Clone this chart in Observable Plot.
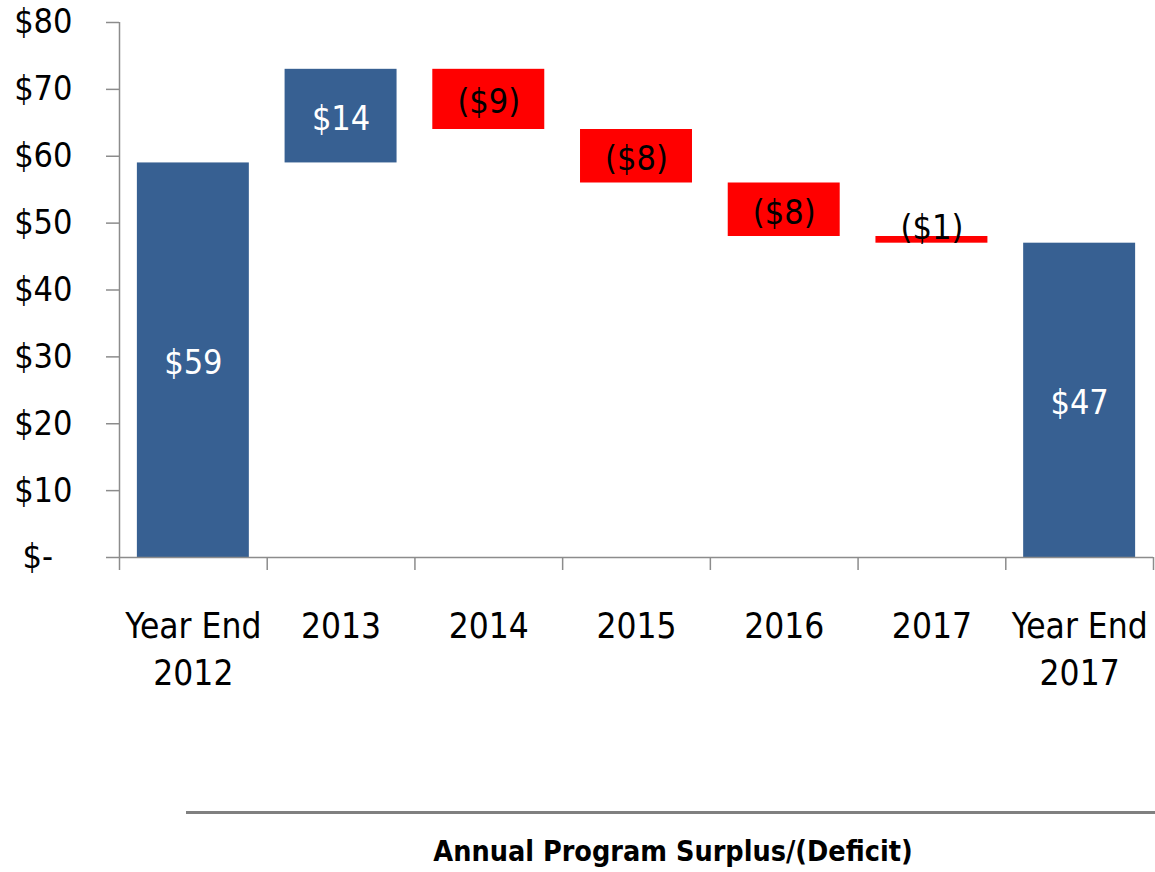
<!DOCTYPE html>
<html><head><meta charset="utf-8">
<script src="https://cdn.jsdelivr.net/npm/d3@7"></script>
<script src="https://cdn.jsdelivr.net/npm/@observablehq/plot@0.6"></script>
<style>
body{margin:0;background:#fff;}
#wrap{position:relative;width:1155px;height:872px;overflow:hidden;}
#rule{position:absolute;left:186px;top:811px;width:969px;height:3px;background:#808080;}
#title{position:absolute;left:186px;width:974px;top:835px;text-align:center;font:bold 28.5px "Liberation Sans Narrow","Arial Narrow","DejaVu Sans Condensed",sans-serif;color:#000;}
</style></head><body><div id="wrap"></div>
<script>
const categories = ["Year End\n2012", "2013", "2014", "2015", "2016", "2017", "Year End\n2017"];
const values = [59, 14, -9, -8, -8, -1, 47];
const kinds = ["total", "delta", "delta", "delta", "delta", "delta", "total"];
const valueLabels = ["$59", "$14", "($9)", "($8)", "($8)", "($1)", "$47"];
const yTicks = [0, 10, 20, 30, 40, 50, 60, 70, 80];
const yTickLabels = ["$-\u2007", "$10", "$20", "$30", "$40", "$50", "$60", "$70", "$80"];

const BLUE = "#376092", RED = "#ff0000", GRAY = "#8c8c8c";
const FONT = '"Liberation Sans Narrow","Arial Narrow","DejaVu Sans Condensed",sans-serif';

let running = 0;
const bars = categories.map((c, i) => {
  let y1, y2;
  if (kinds[i] === "total") { y1 = 0; y2 = values[i]; running = values[i]; }
  else { y1 = running; y2 = running + values[i]; running = y2; }
  return {cat: c, y1, y2, mid: (y1 + y2) / 2, label: valueLabels[i],
    color: (kinds[i] === "total" || values[i] > 0) ? BLUE : RED,
    textColor: (kinds[i] === "total" || values[i] > 0) ? "#fff" : "#000", idx: i};
});

const W = 1155, H = 730, ML = 119, MR = 2, MT = 22, MB = 173;
const step = (W - ML - MR) / categories.length;

const chart = Plot.plot({
  width: W, height: H, marginLeft: ML, marginRight: MR, marginTop: MT, marginBottom: MB,
  style: {fontFamily: FONT, background: "#fff", color: "#000"},
  x: {type: "band", domain: categories, paddingInner: 0.242, paddingOuter: 0.121, align: 0.5, round: false, axis: null, label: null},
  y: {domain: [0, 80], axis: null, label: null},
  color: {type: "identity"},
  marks: [
    Plot.barY(bars, {x: "cat", y1: "y1", y2: "y2", fill: "color"}),
    Plot.ruleX([categories[0]], {x: d => d, y1: 0, y2: 80, dx: -step / 2, stroke: GRAY, strokeWidth: 1.5}),
    Plot.ruleY([0], {stroke: GRAY, strokeWidth: 1.5}),
    Plot.axisY(yTicks, {tickSize: 13, tickPadding: 34, fontSize: 34, stroke: GRAY, strokeWidth: 1.5, fill: "#000", label: null,
      tickFormat: d => yTickLabels[yTicks.indexOf(d)]}),
    Plot.axisX(categories, {tickSize: 13, dx: -step / 2, stroke: GRAY, strokeWidth: 1.5, label: null, tickFormat: () => ""}),
    Plot.axisX([categories[categories.length - 1]], {tickSize: 13, dx: step / 2, stroke: GRAY, strokeWidth: 1.5, label: null, tickFormat: () => ""}),
    Plot.text(categories, {x: d => d, frameAnchor: "bottom", dy: 47, lineAnchor: "top", fontSize: 35, lineHeight: 1.34, fill: "#000"}),
    Plot.text(bars.filter(d => d.idx !== 5), {x: "cat", y: "mid", text: "label", fill: "textColor", fontSize: 34, dy: 3}),
    Plot.text(bars.filter(d => d.idx === 5), {x: "cat", y: "mid", text: "label", fill: "textColor", fontSize: 34, dy: -12})
  ]
});

const wrap = document.getElementById("wrap");
wrap.appendChild(chart);
const rule = document.createElement("div"); rule.id = "rule"; wrap.appendChild(rule);
const title = document.createElement("div"); title.id = "title"; title.textContent = "Annual Program Surplus/(Deficit)"; wrap.appendChild(title);
</script>
</body></html>
